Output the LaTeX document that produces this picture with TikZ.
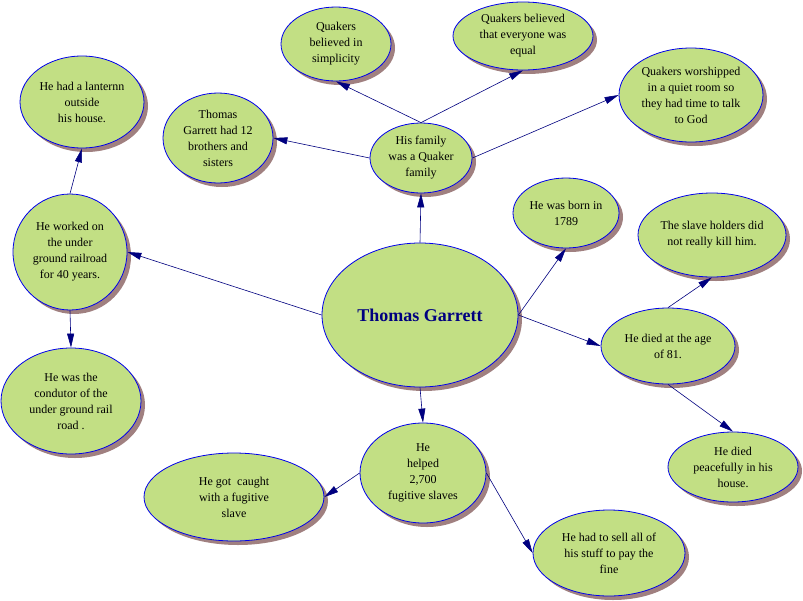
\documentclass[tikz,border=0pt]{standalone}
\usepackage{fontspec}
\setmainfont{Liberation Serif}
\usetikzlibrary{shapes.geometric,arrows.meta,shadows}
\definecolor{leafgreen}{RGB}{194,223,132}
\definecolor{rim}{RGB}{0,0,235}
\definecolor{wire}{RGB}{0,0,128}
\definecolor{shade}{RGB}{160,128,128}
\begin{document}
\begin{tikzpicture}[x=1pt,y=-1pt,
bubble/.style={ellipse, draw=rim, line width=0.8pt, fill=leafgreen, inner sep=0pt, align=center, font=\fontsize{12}{16}\selectfont, drop shadow={shadow xshift=4pt, shadow yshift=-4pt, fill=shade, opacity=1}},
link/.style={draw=wire, line width=0.6pt, -{Triangle[length=14pt,width=7pt]}}]

\useasboundingbox [fill=white] (0,0) rectangle (803,600);
\node [bubble, minimum width=196pt, minimum height=144pt, font=\fontsize{18}{21}\selectfont\bfseries, text=wire] (v1) at (420,315) {Thomas Garrett};
\node [bubble, minimum width=102pt, minimum height=70pt] (v2) at (421,158) {His family\\was a Quaker\\family};
\node [bubble, minimum width=110pt, minimum height=74pt] (v3) at (336,44) {Quakers\\believed in\\simplicity};
\node [bubble, minimum width=140pt, minimum height=68pt] (v4) at (523,36) {Quakers believed\\that everyone was\\equal};
\node [bubble, minimum width=144pt, minimum height=94pt] (v5) at (691,95) {Quakers worshipped\\in a quiet room so\\they had time to talk\\to God};
\node [bubble, minimum width=110pt, minimum height=90pt] (v6) at (218,138) {Thomas\\Garrett had 12\\brothers and\\sisters};
\node [bubble, minimum width=114pt, minimum height=116pt] (v7) at (70,252) {He worked on\\the under\\ground railroad\\for 40 years.};
\node [bubble, minimum width=124pt, minimum height=92pt] (v8) at (82,102) {He had a lanternn\\outside\\his house.};
\node [bubble, minimum width=140pt, minimum height=106pt] (v9) at (71,401) {He was the\\condutor of the\\under ground rail\\road .};
\node [bubble, minimum width=106pt, minimum height=70pt] (v10) at (566,213) {He was born in\\1789};
\node [bubble, minimum width=134pt, minimum height=76pt] (v11) at (668,346) {He died at the age\\of 81.};
\node [bubble, minimum width=148pt, minimum height=84pt] (v12) at (712,235) {The slave holders did\\not really kill him.};
\node [bubble, minimum width=130pt, minimum height=70pt] (v13) at (733,467) {He died\\peacefully in his\\house.};
\node [bubble, minimum width=126pt, minimum height=100pt] (v14) at (423,473) {He\\helped\\2,700\\fugitive slaves};
\node [bubble, minimum width=180pt, minimum height=88pt] (v15) at (234,497) {He got\ \ caught\\with a fugitive\\slave};
\node [bubble, minimum width=152pt, minimum height=86pt] (v16) at (609,553) {He had to sell all of\\his stuff to pay the\\fine};

\draw [link] (v1.north) -- (v2.south);
\draw [link] (v2.north) -- (v3.south);
\draw [link] (v2.north) -- (v4.south);
\draw [link] (v2.east) -- (v5.west);
\draw [link] (v2.west) -- (v6.east);
\draw [link] (v1.west) -- (v7.east);
\draw [link] (v7.north) -- (v8.south);
\draw [link] (v7.south) -- (v9.north);
\draw [link] (v1.east) -- (v10.south);
\draw [link] (v1.east) -- (v11.west);
\draw [link] (v11.north) -- (v12.south);
\draw [link] (v11.south) -- (v13.north);
\draw [link] (v1.south) -- (v14.north);
\draw [link] (v14.west) -- (v15.east);
\draw [link] (v14.east) -- (v16.west);
\end{tikzpicture}
\end{document}
